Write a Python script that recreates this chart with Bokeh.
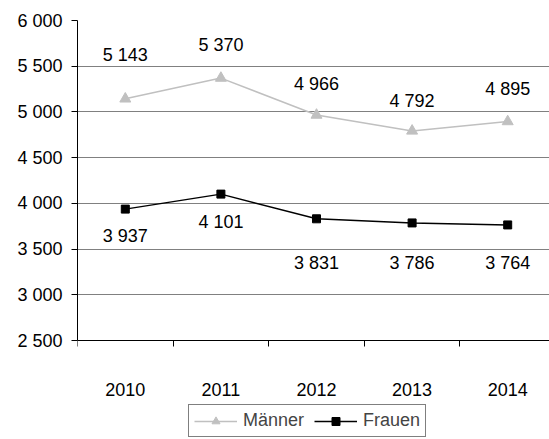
from bokeh.plotting import figure
from bokeh.models import (ColumnDataSource, FixedTicker, Legend, LegendItem, Range1d)
from bokeh.core.properties import value
from bokeh.embed import file_html
from bokeh.resources import INLINE

years = ["2010", "2011", "2012", "2013", "2014"]
maenner = [5143, 5370, 4966, 4792, 4895]
frauen = [3937, 4101, 3831, 3786, 3764]
y_ticks = [2500, 3000, 3500, 4000, 4500, 5000, 5500, 6000]

# label offsets in screen pixels (style only)
m_off = [-44, -33, -31, -30, -33]
f_off = [27, 28, 44, 40, 38]

FONT = "Liberation Sans"
FS = "18px"

Y0, Y1 = 2500, 6000
PLOT_H = 320        # pixel height of the value area
EXTRA = 99          # pixels below the value area for labels and legend
FRAME_W = 472
CAT_W = 95.6

xs = list(range(1, len(years) + 1))
def fmt(v):
    return f"{v:,}".replace(",", " ")

src_m = ColumnDataSource(dict(x=xs, y=maenner, t=[fmt(v) for v in maenner], off=m_off))
src_f = ColumnDataSource(dict(x=xs, y=frauen, t=[fmt(v) for v in frauen], off=f_off))

ystart = Y0 - EXTRA * (Y1 - Y0) / PLOT_H
p = figure(frame_width=FRAME_W, frame_height=PLOT_H + EXTRA, output_backend="svg",
           toolbar_location=None,
           x_range=Range1d(0.5, 0.5 + FRAME_W / CAT_W), y_range=Range1d(ystart, Y1),
           min_border_left=77, min_border_top=20, min_border_right=0, min_border_bottom=0)
p.outline_line_color = None
p.background_fill_color = "white"

# axes
p.xaxis.fixed_location = Y0
p.xaxis.ticker = FixedTicker(ticks=xs, minor_ticks=[x + 0.5 for x in range(0, len(years))])
p.xaxis.major_label_overrides = {x: y for x, y in zip(xs, years)}
p.xaxis.major_tick_line_color = None
p.xaxis.minor_tick_out = 6
p.xaxis.minor_tick_in = 0
p.xaxis.minor_tick_line_color = "black"
p.xaxis.axis_line_color = "black"
p.xaxis.major_label_standoff = 36
p.yaxis.ticker = FixedTicker(ticks=y_ticks)
p.yaxis.bounds = (Y0, Y1)
p.yaxis.major_label_overrides = {t: fmt(t) for t in y_ticks}
p.yaxis.major_tick_out = 6
p.yaxis.major_tick_in = 0
p.yaxis.minor_tick_line_color = None
p.yaxis.major_tick_line_color = "black"
p.yaxis.axis_line_color = "black"
p.yaxis.major_label_standoff = 9
for ax in (p.xaxis, p.yaxis):
    ax.major_label_text_font = FONT
    ax.major_label_text_font_size = FS
    ax.major_label_text_color = "black"

p.xgrid.grid_line_color = None
p.ygrid.grid_line_color = "#808080"
p.ygrid.grid_line_width = 1

lm = p.line("x", "y", source=src_m, line_color="#c0c0c0", line_width=1.5)
sm = p.scatter("x", "y", source=src_m, marker="triangle", size=11,
               fill_color="#c0c0c0", line_color="#c0c0c0")
lf = p.line("x", "y", source=src_f, line_color="black", line_width=1.5)
sf = p.scatter("x", "y", source=src_f, marker="square", size=8,
               fill_color="black", line_color="black")

for src in (src_m, src_f):
    p.text("x", "y", text="t", source=src, y_offset="off",
           text_align="center", text_baseline="middle",
           text_font=value(FONT), text_font_size=FS, text_color="black")

legend = Legend(items=[LegendItem(label="Männer", renderers=[lm, sm]),
                       LegendItem(label="Frauen", renderers=[lf, sf])],
                orientation="horizontal", location=(111, 2),
                label_text_font=FONT, label_text_font_size=FS,
                glyph_width=43, glyph_height=20, label_height=20,
                label_standoff=6, spacing=10,
                padding=5, margin=0, border_line_color="black", border_line_width=1,
                background_fill_alpha=1)
p.add_layout(legend, "center")

open("out.html", "w").write(file_html(p, INLINE))
